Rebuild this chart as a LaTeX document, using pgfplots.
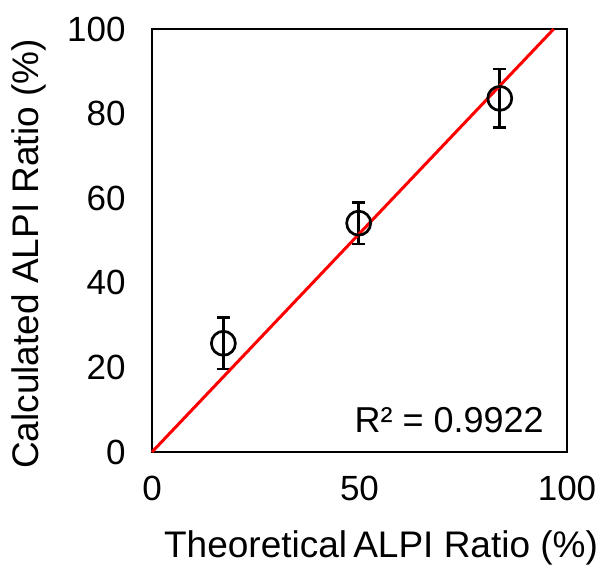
\documentclass[border=0pt]{standalone}
\usepackage{fontspec}
\setmainfont{Liberation Sans}
\usepackage{pgfplots}
\pgfplotsset{compat=1.18}
\begin{document}
\begin{tikzpicture}
\begin{axis}[
  scale only axis,
  width=415bp, height=423bp,
  xmin=0, xmax=100, ymin=0, ymax=100,
  xtick={0,50,100}, ytick={0,20,40,60,80,100},
  major tick length=0pt,
  axis line style={black, line width=1.8bp},
  /pgf/number format/assume math mode=true,
  tick label style={font=\fontsize{35bp}{42bp}\selectfont},
  xticklabel style={yshift=-21bp},
  yticklabel style={xshift=-23bp},
  label style={font=\fontsize{37bp}{44bp}\selectfont},
  xlabel={Theoretical\,ALPI Ratio (\%)},
  ylabel={Calculated ALPI Ratio (\%)},
  xlabel style={at={(axis description cs:0.552,-0.227)}, anchor=center},
  ylabel style={at={(axis description cs:-0.296,0.468)}, anchor=center},
  clip=false,
]
\addplot[only marks, black, mark=o, mark size=12bp, line width=2.7bp,
  error bars/.cd, y dir=both, y explicit,
  error bar style={line width=2.6bp, black},
  error mark options={black, line width=2.6bp, mark size=6.5bp, rotate=90}]
  coordinates {
  (17.2,25.7) +- (0,6.1)
  (49.8,54.1) +- (0,4.9)
  (83.8,83.6) +- (0,6.9)
};
\addplot[red, line width=3bp, no marks] coordinates {(0,0) (96.8,100)};
\node[font=\fontsize{36bp}{43bp}\selectfont] at (rel axis cs:0.716,0.076) {R² = 0.9922};
\end{axis}
\path ([shift={(-152bp,-116bp)}]current axis.south west) rectangle ([shift={(37bp,29bp)}]current axis.north east);
\end{tikzpicture}
\end{document}
